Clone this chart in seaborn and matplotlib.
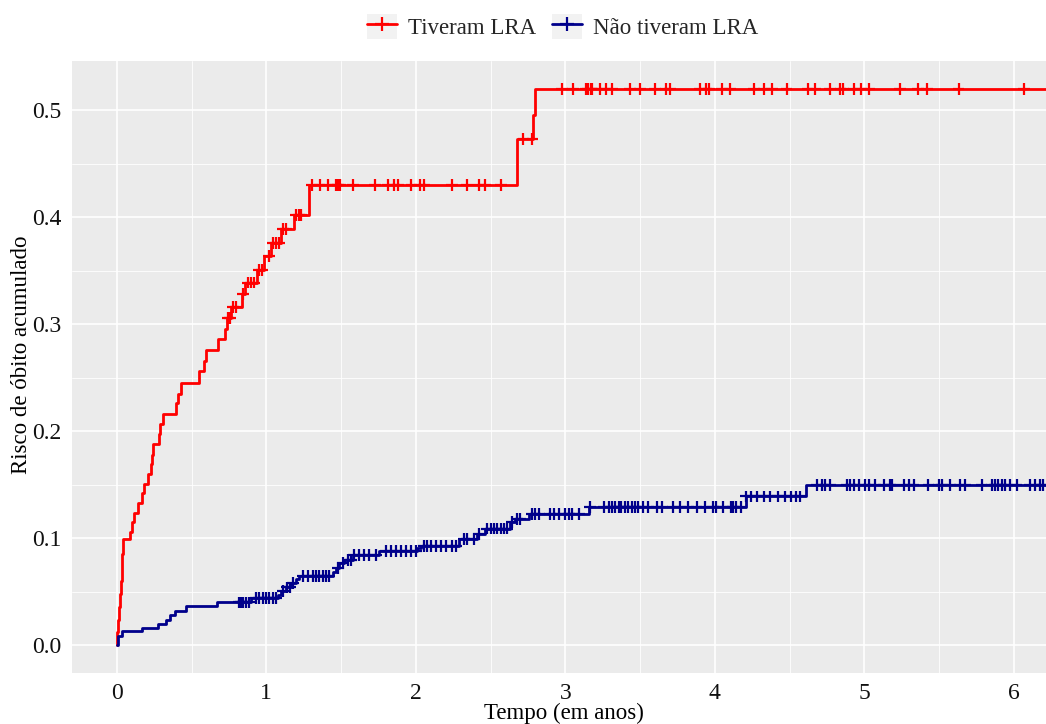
import numpy as np
import pandas as pd
import matplotlib
matplotlib.use("Agg")
import matplotlib.pyplot as plt
from matplotlib.lines import Line2D
from matplotlib.patches import Rectangle
from matplotlib.legend_handler import HandlerTuple
import seaborn as sns

# Cumulative incidence of death (step functions) per group
group_names = ["Tiveram LRA", "Não tiveram LRA"]
group_colors = ["#FF0000", "#00008B"]

lra_time = [0.0, 0.003, 0.007, 0.015, 0.022, 0.028, 0.032, 0.036, 0.040, 0.089,
            0.100, 0.116, 0.145, 0.169, 0.185, 0.207, 0.230, 0.236, 0.241, 0.279,
            0.292, 0.308, 0.397, 0.412, 0.426, 0.548, 0.582, 0.597, 0.680, 0.724,
            0.735, 0.764, 0.836, 0.858, 0.936, 0.987, 1.032, 1.099, 1.183, 1.288,
            2.680, 2.785, 2.800, 6.35]
lra_risk = [0.0, 0.012, 0.024, 0.036, 0.048, 0.060, 0.072, 0.085, 0.099, 0.106,
            0.115, 0.124, 0.133, 0.142, 0.151, 0.160, 0.169, 0.178, 0.188, 0.197,
            0.207, 0.216, 0.226, 0.235, 0.245, 0.256, 0.266, 0.276, 0.286, 0.296,
            0.306, 0.316, 0.328, 0.339, 0.351, 0.364, 0.376, 0.389, 0.402, 0.430,
            0.473, 0.496, 0.520, 0.520]
lra_censor = [0.745, 0.755, 0.778, 0.795, 0.845, 0.876, 0.898, 0.920, 0.949, 0.972,
              1.016, 1.043, 1.065, 1.088, 1.110, 1.132, 1.199, 1.217, 1.232,
              1.307, 1.356, 1.411, 1.467, 1.482, 1.496, 1.582, 1.729, 1.811, 1.856,
              1.882, 1.971, 2.027, 2.056, 2.244, 2.344, 2.422, 2.462, 2.571, 2.72,
              2.78, 2.98, 3.05, 3.14, 3.15, 3.17, 3.18, 3.23, 3.27, 3.31, 3.43,
              3.50, 3.60, 3.67, 3.70, 3.90, 3.94, 3.96, 4.05, 4.10, 4.26, 4.33,
              4.38, 4.48, 4.62, 4.67, 4.77, 4.84, 4.86, 4.93, 4.98, 5.03, 5.24,
              5.36, 5.42, 5.63, 6.07]

nolra_time = [0.0, 0.005, 0.036, 0.167, 0.278, 0.329, 0.358, 0.391, 0.460, 0.673,
              0.898, 1.076, 1.098, 1.131, 1.165, 1.198, 1.220, 1.443, 1.466, 1.488,
              1.521, 1.577, 1.755, 2.010, 2.033, 2.289, 2.410, 2.460, 2.630, 2.660,
              2.760, 3.160, 4.207, 4.611, 6.35]
nolra_risk = [0.0, 0.009, 0.013, 0.016, 0.020, 0.024, 0.028, 0.032, 0.037, 0.040,
              0.044, 0.047, 0.051, 0.054, 0.058, 0.062, 0.065, 0.068, 0.072, 0.077,
              0.080, 0.084, 0.088, 0.091, 0.093, 0.099, 0.104, 0.109, 0.115, 0.118,
              0.123, 0.129, 0.139, 0.150, 0.150]
nolra_censor = [0.815, 0.831, 0.842, 0.864, 0.886, 0.931, 0.953, 0.976, 0.998, 1.020,
                1.042, 1.065, 1.110, 1.140, 1.160, 1.180, 1.243, 1.276, 1.310, 1.332,
                1.354, 1.376, 1.399, 1.421, 1.477, 1.510, 1.543, 1.566, 1.588, 1.621,
                1.655, 1.688, 1.733, 1.800, 1.833, 1.866, 1.900, 1.933, 1.967, 2.000,
                2.056, 2.078, 2.100, 2.134, 2.167, 2.200, 2.244, 2.267, 2.320, 2.340,
                2.390, 2.420, 2.478, 2.500, 2.522, 2.544, 2.567, 2.589, 2.611, 2.644,
                2.678, 2.700, 2.778, 2.800, 2.822, 2.900, 2.922, 2.956, 3.000, 3.022,
                3.044, 3.089, 3.167, 3.256, 3.289, 3.311, 3.333, 3.356, 3.373, 3.396,
                3.418, 3.444, 3.467, 3.489, 3.522, 3.556, 3.611, 3.644, 3.722, 3.767,
                3.822, 3.878, 3.933, 3.990, 4.011, 4.056, 4.110, 4.122, 4.144, 4.178,
                4.210, 4.240, 4.280, 4.330, 4.370, 4.420, 4.470, 4.510, 4.540, 4.570,
                4.684, 4.718, 4.740, 4.773, 4.884, 4.907, 4.929, 4.962, 5.007, 5.029,
                5.073, 5.129, 5.173, 5.184, 5.262, 5.296, 5.329, 5.429, 5.496, 5.518,
                5.573, 5.640, 5.673, 5.784, 5.851, 5.873, 5.896, 5.918, 5.940, 5.973,
                6.018, 6.107, 6.140, 6.173, 6.196]

x_ticks = [0, 1, 2, 3, 4, 5, 6]
y_ticks = [0.0, 0.1, 0.2, 0.3, 0.4, 0.5]
y_tick_labels = ["0.0", "0.1", "0.2", "0.3", "0.4", "0.5"]


def step_value(times, risks, t):
    """Value of a right-continuous step function at time t."""
    idx = np.searchsorted(times, t, side="right") - 1
    return np.asarray(risks)[idx]


curves = pd.concat([
    pd.DataFrame({"tempo": lra_time, "risco": lra_risk, "grupo": group_names[0]}),
    pd.DataFrame({"tempo": nolra_time, "risco": nolra_risk, "grupo": group_names[1]}),
], ignore_index=True)

censored = pd.concat([
    pd.DataFrame({"tempo": lra_censor,
                  "risco": step_value(lra_time, lra_risk, lra_censor),
                  "grupo": group_names[0]}),
    pd.DataFrame({"tempo": nolra_censor,
                  "risco": step_value(nolra_time, nolra_risk, nolra_censor),
                  "grupo": group_names[1]}),
], ignore_index=True)

palette = dict(zip(group_names, group_colors))

sns.set_theme(style="darkgrid", rc={
    "axes.facecolor": "#EBEBEB",
    "grid.color": "white",
    "axes.edgecolor": "none",
})
plt.rcParams["font.family"] = ["Liberation Serif", "DejaVu Serif"]

fig = plt.figure(figsize=(10.46, 7.24), dpi=100)
ax = fig.add_axes([0.0688, 0.0704, 0.9312, 0.8453])

sns.lineplot(data=curves, x="tempo", y="risco", hue="grupo", palette=palette,
             estimator=None, sort=False, drawstyle="steps-post",
             linewidth=2.0, legend=False, ax=ax, zorder=3)
sns.scatterplot(data=censored, x="tempo", y="risco", hue="grupo", palette=palette,
                marker="+", s=72, linewidth=1.6, legend=False, ax=ax, zorder=4)

ax.set_xlim(-0.30, 6.215)
ax.set_ylim(-0.026, 0.546)
ax.set_xticks(x_ticks)
ax.set_yticks(y_ticks)
ax.set_yticklabels(y_tick_labels)
ax.set_xticks(np.arange(0.5, 6.5, 1.0), minor=True)
ax.set_yticks(np.arange(0.05, 0.55, 0.1), minor=True)
ax.grid(which="major", color="white", linewidth=1.2)
ax.grid(which="minor", color="white", linewidth=0.6)
ax.tick_params(which="major", length=4.5, width=0.9, color="#333333",
               labelsize=17, labelcolor="#111111", pad=3)
ax.tick_params(which="minor", length=0)
for sp in ax.spines.values():
    sp.set_visible(False)

ax.set_xlabel("Tempo (em anos)", fontsize=16.5, color="black")
ax.set_ylabel("Risco de óbito acumulado", fontsize=16.5, color="black")
ax.xaxis.set_label_coords(0.505, -0.049)
ax.yaxis.set_label_coords(-0.041, 0.52)

handles = [
    (Rectangle((0, 0), 1, 1, facecolor="#F2F2F2", edgecolor="none"),
     Line2D([], [], color=c, linewidth=2.0, marker="+", markersize=10,
            markeredgewidth=1.6))
    for c in group_colors
]
fig.legend(handles, group_names, handler_map={tuple: HandlerTuple(ndivide=1)},
           loc="center", bbox_to_anchor=(0.538, 0.963), ncol=2, frameon=False,
           fontsize=16.5, handlelength=1.3, handleheight=1.3, handletextpad=0.5,
           columnspacing=0.7)

fig.savefig("out.png", dpi=100)
